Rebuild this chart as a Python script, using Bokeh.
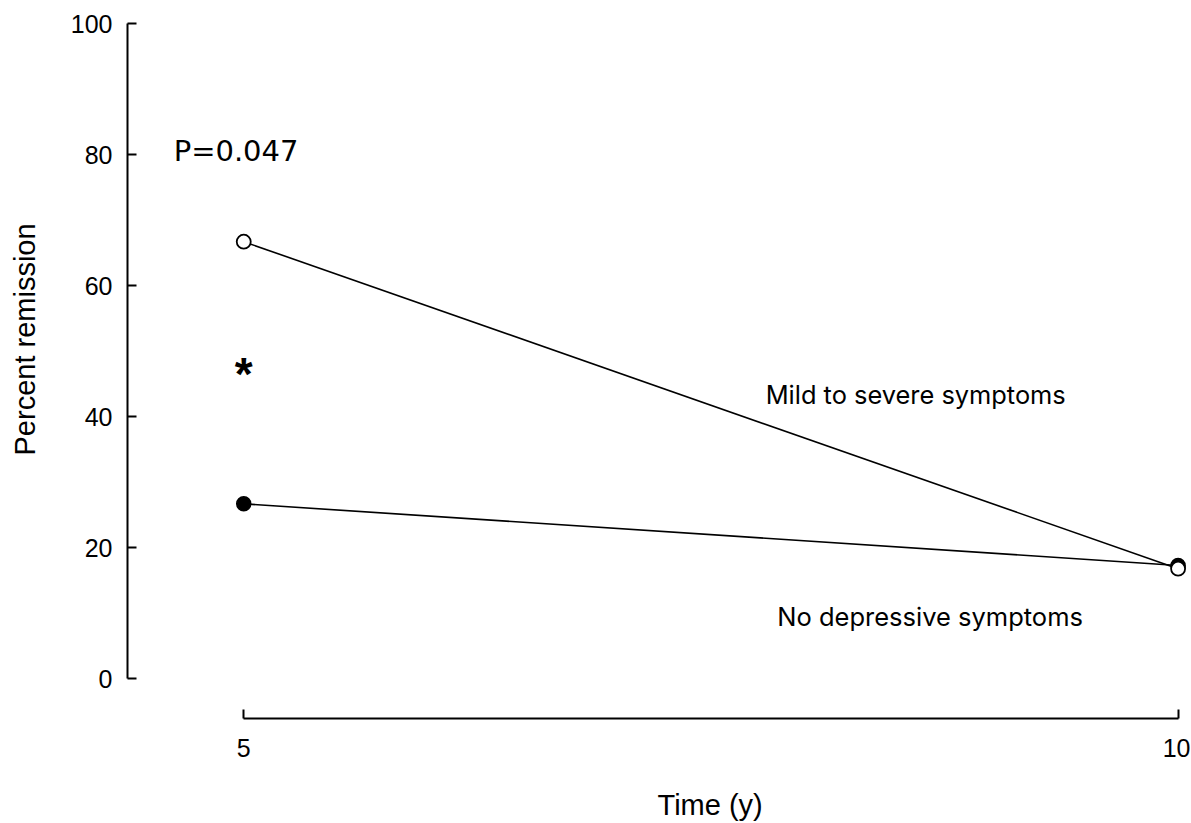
from bokeh.plotting import figure
from bokeh.models import FixedTicker, Range1d, Label, Title
from bokeh.embed import file_html
from bokeh.resources import INLINE

# Data
times = [5, 10]
mild_severe = [66.7, 16.8]      # open circles
no_depressive = [26.7, 17.3]    # filled circles
y_ticks = [0, 20, 40, 60, 80, 100]
x_ticks = [5, 10]
x_title = "Time (y)"
y_title = "Percent remission"
p_text = "P=0.047"
mild_label = "Mild to severe symptoms"
none_label = "No depressive symptoms"

p = figure(width=1190, height=822, output_backend="svg", toolbar_location=None,
           x_range=Range1d(4.378, 10.045), y_range=Range1d(-6.06, 100.0),
           min_border_left=127, min_border_right=4, min_border_top=23, min_border_bottom=104)
p.outline_line_color = None
p.xgrid.visible = False
p.ygrid.visible = False
p.background_fill_color = "white"
p.border_fill_color = "white"

FONT = "Liberation Sans"

for ax in (p.xaxis[0], p.yaxis[0]):
    ax.axis_line_width = 2
    ax.axis_line_color = "black"
    ax.major_tick_line_width = 2
    ax.major_tick_line_color = "black"
    ax.major_tick_in = 9
    ax.major_tick_out = 0
    ax.minor_tick_line_color = None
    ax.major_label_text_font = FONT
    ax.major_label_text_font_size = "25px"
    ax.major_label_text_color = "black"

p.yaxis[0].ticker = FixedTicker(ticks=y_ticks)
p.yaxis[0].bounds = (0, 100)
p.yaxis[0].major_label_standoff = 15

p.xaxis[0].ticker = FixedTicker(ticks=x_ticks)
p.xaxis[0].bounds = (5, 10)
p.xaxis[0].major_label_standoff = 20

# Blank spacers between the axes and their titles
p.add_layout(Title(text=" ", standoff=23, text_font_size="1px"), "below")
p.add_layout(Title(text=" ", standoff=21, text_font_size="1px"), "left")

# Axis titles, offset so that they sit centred on the axis bounds
p.add_layout(Title(text=x_title, align="left", offset=530, standoff=2,
                   text_font=FONT, text_font_size="29px", text_font_style="normal",
                   text_color="black"), "below")
p.add_layout(Title(text=y_title, align="left", offset=263, standoff=6,
                   text_font=FONT, text_font_size="29px", text_font_style="normal",
                   text_color="black"), "left")

# Lines
p.line(times, no_depressive, line_color="black", line_width=1.6)
p.line(times, mild_severe, line_color="black", line_width=1.6)
# Markers
p.scatter(times, no_depressive, marker="circle", size=14, fill_color="black",
          line_color="black", line_width=1.5)
p.scatter(times, mild_severe, marker="circle", size=14, fill_color="white",
          line_color="black", line_width=1.8)

# Annotations
p.add_layout(Label(x=4.625, y=80.5, text=p_text, text_font="DejaVu Sans",
                   text_font_size="29px", text_color="black", text_baseline="alphabetic"))
p.add_layout(Label(x=5.0, y=46.5, text="*", text_font=FONT, text_font_style="bold",
                   text_font_size="46px", text_color="black", text_align="center",
                   text_baseline="alphabetic"))
p.add_layout(Label(x=7.793, y=43.4, text=mild_label, text_font="Inter",
                   text_font_size="25.4px", text_color="black", text_baseline="alphabetic"))
p.add_layout(Label(x=7.855, y=9.5, text=none_label, text_font="Inter",
                   text_font_size="25.5px", text_color="black", text_baseline="alphabetic"))

open("out.html", "w").write(file_html(p, INLINE))
